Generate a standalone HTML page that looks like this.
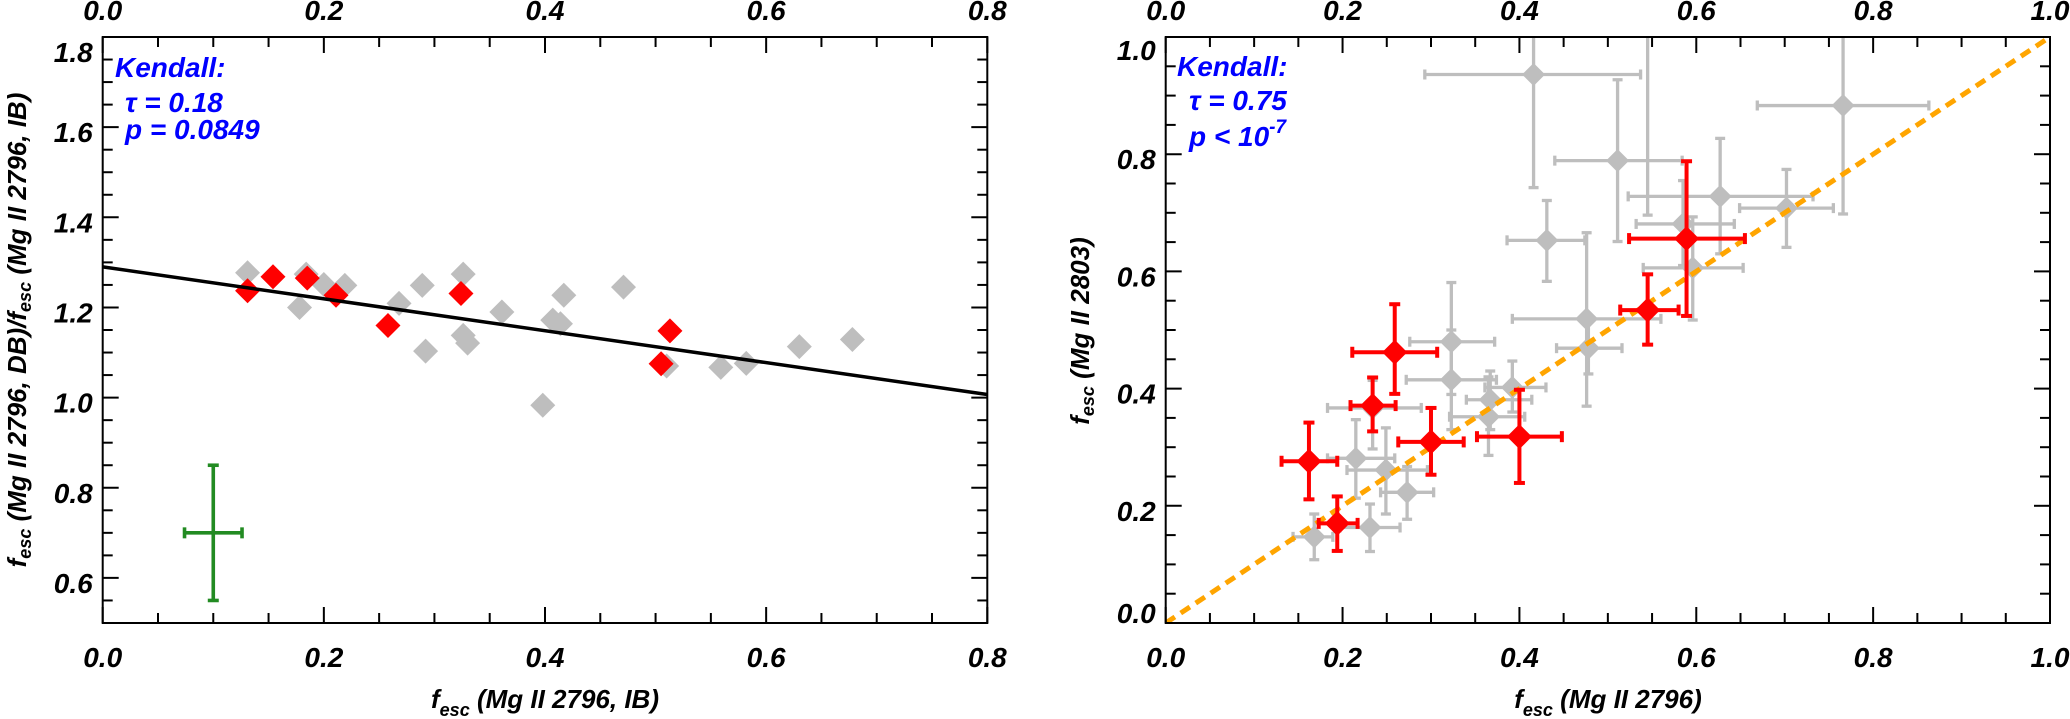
<!DOCTYPE html>
<html><head><meta charset="utf-8"><style>
html,body{margin:0;padding:0;background:#fff;}
svg{display:block;font-family:"Liberation Sans",sans-serif;font-weight:bold;font-style:italic;}
</style></head><body>
<svg id="fig" width="2070" height="719" viewBox="0 0 2070 719" xmlns="http://www.w3.org/2000/svg">
<g id="left"></g>
<g id="right"></g>
<text x="17" y="330" transform="rotate(-90 17 330)" text-anchor="middle" font-size="26" dominant-baseline="central">f<tspan font-size="18" dy="8">esc</tspan><tspan dy="-8"> (Mg II 2796, DB)/f</tspan><tspan font-size="18" dy="8">esc</tspan><tspan dy="-8"> (Mg II 2796, IB)</tspan></text>
<text x="545" y="708" text-anchor="middle" font-size="26">f<tspan font-size="18" dy="8">esc</tspan><tspan dy="-8"> (Mg II 2796, IB)</tspan></text>
<text x="1080" y="331" transform="rotate(-90 1080 331)" text-anchor="middle" font-size="26" dominant-baseline="central">f<tspan font-size="18" dy="8">esc</tspan><tspan dy="-8"> (Mg II 2803)</tspan></text>
<text x="1608" y="708" text-anchor="middle" font-size="26">f<tspan font-size="18" dy="8">esc</tspan><tspan dy="-8"> (Mg II 2796)</tspan></text>
<g fill="#0000ff" font-size="28">
<text x="115" y="77">Kendall:</text>
<text x="125" y="112">τ = 0.18</text>
<text x="125" y="139">p = 0.0849</text>
</g>
<g fill="#0000ff" font-size="28">
<text x="1177" y="76">Kendall:</text>
<text x="1189" y="110">τ = 0.75</text>
<text x="1189" y="146">p &lt; 10<tspan font-size="19" dy="-13">-7</tspan></text>
</g>
</svg>
<script>
// ---- left panel data ----
const leftGrayX = [0.131,0.178,0.184,0.200,0.219,0.268,0.289,0.292,0.326,0.326,0.330,0.361,0.398,0.407,0.414,0.417,0.471,0.510,0.559,0.582,0.630,0.678];
const leftGrayY = [1.277,1.200,1.274,1.251,1.249,1.209,1.249,1.103,1.274,1.138,1.121,1.190,0.983,1.172,1.164,1.227,1.245,1.070,1.067,1.076,1.113,1.129];
const leftRedX = [0.131,0.154,0.185,0.211,0.258,0.324,0.505,0.513];
const leftRedY = [1.237,1.268,1.265,1.227,1.160,1.231,1.075,1.148];
const fitIntercept = 1.29;
const fitSlope = -0.354;
const typErrX = [0.1, 0.074, 0.126];
const typErrY = [0.7, 0.55, 0.85];
const leftXTicks = ["0.0","0.2","0.4","0.6","0.8"];
const leftYTicks = ["0.6","0.8","1.0","1.2","1.4","1.6","1.8"];
// ---- right panel data ----
const rGrayX   = [0.168,0.215,0.231,0.249,0.273,0.234,0.323,0.323,0.392,0.367,0.365,0.476,0.478,0.431,0.416,0.511,0.545,0.585,0.627,0.702,0.596,0.766];
const rGrayY   = [0.147,0.281,0.163,0.261,0.223,0.367,0.480,0.415,0.402,0.381,0.352,0.519,0.469,0.653,0.936,0.789,1.050,0.681,0.728,0.708,0.606,0.883];
const rGrayXlo = [0.144,0.183,0.197,0.205,0.243,0.183,0.276,0.272,0.361,0.340,0.321,0.392,0.442,0.386,0.293,0.440,0.450,0.532,0.523,0.649,0.540,0.669];
const rGrayXhi = [0.189,0.259,0.265,0.296,0.303,0.289,0.372,0.374,0.430,0.414,0.406,0.560,0.516,0.474,0.537,0.584,0.640,0.643,0.732,0.755,0.653,0.863];
const rGrayYlo = [0.108,0.213,0.122,0.186,0.177,0.297,0.390,0.330,0.360,0.330,0.286,0.370,0.425,0.583,0.743,0.651,0.696,0.610,0.630,0.641,0.517,0.698];
const rGrayYhi = [0.186,0.347,0.203,0.333,0.267,0.414,0.581,0.500,0.447,0.430,0.420,0.666,0.520,0.721,1.100,0.927,1.400,0.755,0.827,0.774,0.693,1.100];
const rRedX   = [0.162,0.194,0.234,0.259,0.300,0.400,0.545,0.589];
const rRedY   = [0.276,0.170,0.371,0.462,0.309,0.318,0.534,0.656];
const rRedXlo = [0.131,0.173,0.209,0.211,0.263,0.352,0.514,0.524];
const rRedXhi = [0.194,0.217,0.260,0.307,0.337,0.448,0.580,0.655];
const rRedYlo = [0.211,0.123,0.327,0.391,0.253,0.239,0.475,0.524];
const rRedYhi = [0.342,0.216,0.419,0.544,0.367,0.398,0.595,0.788];
const rightXTicks = ["0.0","0.2","0.4","0.6","0.8","1.0"];
const rightYTicks = ["0.0","0.2","0.4","0.6","0.8","1.0"];

const NS = "http://www.w3.org/2000/svg";
function mk(parent, tag, attrs){
  const e = document.createElementNS(NS, tag);
  for (const k in attrs) e.setAttribute(k, attrs[k]);
  parent.appendChild(e);
  return e;
}

function panel(g, id, box, xmin, xmax, ymin, ymax){
  const sx = v => box.x0 + (v - xmin) / (xmax - xmin) * (box.x1 - box.x0);
  const sy = v => box.y1 - (v - ymin) / (ymax - ymin) * (box.y1 - box.y0);
  const defs = mk(g, "defs", {});
  const cp = mk(defs, "clipPath", {id: id + "-clip"});
  mk(cp, "rect", {x: box.x0, y: box.y0, width: box.x1 - box.x0, height: box.y1 - box.y0});
  const plot = mk(g, "g", {"clip-path": "url(#" + id + "-clip)"});
  
  
  return {sx, sy, plot};
}

function axes(g, id, box, sx, sy, xmin, xmax, ymin, ymax, xTicks, yTicks, ySpecial){
  const frame = mk(g, "rect", {x: box.x0, y: box.y0, width: box.x1 - box.x0, height: box.y1 - box.y0, fill: "none", stroke: "#000", "stroke-width": 2});
  
  
  const tk = mk(g, "g", {stroke: "#000", "stroke-width": 2});
  
  
  const nx = Math.round((xmax - xmin) / 0.05);
  for (let i = 0; i <= nx; i++){
    const v = xmin + i * 0.05, x = sx(v), L = (i % 4 === 0) ? 16 : 10;
    mk(tk, "line", {x1: x, x2: x, y1: box.y1, y2: box.y1 - L});
    mk(tk, "line", {x1: x, x2: x, y1: box.y0, y2: box.y0 + L});
  }
  const ny = Math.round((ymax - ymin) / 0.05);
  for (let i = 0; i <= ny; i++){
    const v = ymin + i * 0.05, y = sy(v);
    const major = Math.abs(Math.round(v / 0.2) * 0.2 - v) < 1e-6;
    const L = major ? 16 : 10;
    mk(tk, "line", {x1: box.x0, x2: box.x0 + L, y1: y, y2: y});
    mk(tk, "line", {x1: box.x1, x2: box.x1 - L, y1: y, y2: y});
  }
  xTicks.forEach(t => {
    const x = sx(parseFloat(t));
    const b = mk(g, "text", {x: x, y: 667, "text-anchor": "middle", "font-size": 28});
    b.textContent = t;
    
    
    const tp = mk(g, "text", {x: x, y: 20, "text-anchor": "middle", "font-size": 28});
    tp.textContent = t;
    
    
  });
  yTicks.forEach(t => {
    const v = parseFloat(t);
    let yc = sy(v) + 5;
    if (ySpecial[t] !== undefined) yc = ySpecial[t];
    const e = mk(g, "text", {x: box.x0 - 10, y: yc + 10, "text-anchor": "end", "font-size": 28});
    e.textContent = t;
    
    
  });
}

function diamond(parent, x, y, r, color){
  return mk(parent, "polygon", {points: `${x},${y-r} ${x+r},${y} ${x},${y+r} ${x-r},${y}`, fill: color});
}
function errbar(parent, sx, sy, x, y, xlo, xhi, ylo, yhi, color, w, cap){
  const gg = mk(parent, "g", {stroke: color, "stroke-width": w, fill: "none"});
  mk(gg, "line", {x1: sx(xlo), x2: sx(xhi), y1: sy(y), y2: sy(y)});
  mk(gg, "line", {x1: sx(x), x2: sx(x), y1: sy(ylo), y2: sy(yhi)});
  mk(gg, "line", {x1: sx(xlo), x2: sx(xlo), y1: sy(y) - cap, y2: sy(y) + cap});
  mk(gg, "line", {x1: sx(xhi), x2: sx(xhi), y1: sy(y) - cap, y2: sy(y) + cap});
  mk(gg, "line", {x1: sx(x) - cap, x2: sx(x) + cap, y1: sy(ylo), y2: sy(ylo)});
  mk(gg, "line", {x1: sx(x) - cap, x2: sx(x) + cap, y1: sy(yhi), y2: sy(yhi)});
  return gg;
}

// ---------- LEFT ----------
const LB = {x0: 102.7, x1: 987.3, y0: 37, y1: 623};
const gL = document.getElementById("left");
const L = panel(gL, "left", LB, 0, 0.8, 0.5, 1.8);
leftGrayX.forEach((v, i) => {
  const d = diamond(L.plot, L.sx(v), L.sy(leftGrayY[i]), 12.5, "#bebebe");
  
  
});
leftRedX.forEach((v, i) => {
  const d = diamond(L.plot, L.sx(v), L.sy(leftRedY[i]), 12.5, "#ff0000");
  
  
});
const fitLine = mk(L.plot, "line", {x1: L.sx(0), y1: L.sy(fitIntercept), x2: L.sx(0.8), y2: L.sy(fitIntercept + fitSlope * 0.8), stroke: "#000", "stroke-width": 3.5});


const typ = errbar(L.plot, L.sx, L.sy, typErrX[0], typErrY[0], typErrX[1], typErrX[2], typErrY[1], typErrY[2], "#228b22", 3.6, 5.5);


axes(gL, "left", LB, L.sx, L.sy, 0, 0.8, 0.5, 1.8, leftXTicks, leftYTicks, {"1.8": 52});

// ---------- RIGHT ----------
const RB = {x0: 1165.7, x1: 2050, y0: 37, y1: 623};
const gR = document.getElementById("right");
const R = panel(gR, "right", RB, 0, 1, 0, 1);
rGrayX.forEach((v, i) => {
  const e = errbar(R.plot, R.sx, R.sy, v, rGrayY[i], rGrayXlo[i], rGrayXhi[i], rGrayYlo[i], rGrayYhi[i], "#bebebe", 3.3, 5);
  
  
});
rGrayX.forEach((v, i) => {
  const d = diamond(R.plot, R.sx(v), R.sy(rGrayY[i]), 11.5, "#bebebe");
  
  
});
const oneLine = mk(R.plot, "line", {x1: R.sx(0), y1: R.sy(0), x2: R.sx(1), y2: R.sy(1), stroke: "#ffa500", "stroke-width": 5, "stroke-dasharray": "11 7"});


rRedX.forEach((v, i) => {
  const e = errbar(R.plot, R.sx, R.sy, v, rRedY[i], rRedXlo[i], rRedXhi[i], rRedYlo[i], rRedYhi[i], "#ff0000", 4, 5.5);
  
  
  const d = diamond(R.plot, R.sx(v), R.sy(rRedY[i]), 12.5, "#ff0000");
  
  
});
axes(gR, "right", RB, R.sx, R.sy, 0, 1, 0, 1, rightXTicks, rightYTicks, {"1.0": 50, "0.0": 613});
</script>
</body></html>
